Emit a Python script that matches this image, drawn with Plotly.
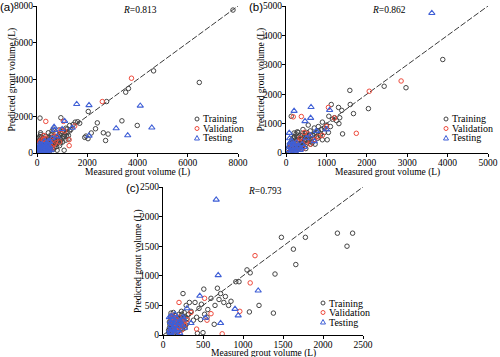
import plotly.graph_objects as go

# ---------------- data: (measured, predicted) ----------------
a_train_x = [7800,4640,6460,3530,3640,2770,2040,2030,2160,2400,2330,2640,2730,2830,3380,3990,1700,1620,950,1080,120,1350,1250,1200,1150,1000,920,870,820,1300,1520,1900,1950,1440,1050,980,760,700,650,600,560,540,500,480,450,430,400,380,350,320,300,280,260,240,220,200,180,160,150,140,120,110,100,600,650,700,750,800,850,900,950,1000,1100,1050,700,650,550,500,450,400,350,300,250,200,600,800,900,1150,1300,1200,720,680,580,520,460,420,380,
             60,90,130,170,210,250,290,330,370,410,450,490,530,570,610,50,80,110,160,190,230,270,310,360,400,440,480,520,560,620,660,740,780,860,940,1020,1180,1240,90,140]
a_train_y = [7780,4470,3840,3310,3510,2800,2260,780,1090,1640,1320,1100,680,1030,1750,1500,1620,1700,1920,150,1900,1280,950,1100,1350,1150,820,1250,700,1500,1680,850,920,1550,900,1050,1050,900,1300,1200,1000,750,850,600,1100,500,700,300,900,450,600,250,800,400,150,500,300,650,100,1000,400,200,50,400,550,600,500,850,650,1000,700,800,1000,1250,300,200,300,100,250,150,550,200,600,700,650,150,400,700,1200,1300,780,700,520,480,380,420,520,
             150,300,550,250,450,100,350,650,200,300,450,350,200,600,500,800,650,900,850,550,350,500,750,250,600,250,750,400,850,300,450,750,350,900,550,600,900,750,700,1100]
a_val_x = [3760,2600,350,1050,1500,1280,1280,950,800,650,500,400,300,250,200,150,120,350,700,600,450,550,1100,900,750,180,280,100,220,330,420,520,640,160,260]
a_val_y = [4070,2800,1720,1720,1470,720,400,1270,1100,900,650,300,150,500,250,700,50,800,500,250,100,600,1200,600,800,400,950,600,200,350,150,300,450,150,750]
a_test_x = [1580,2070,4110,3150,3610,4570,2070,1100,680,1400,500,450,400,350,300,250,200,150,120,100,80,300,550,600,700,400,250,180,350,450,200,150,500,1000,800,
            60,90,130,170,210,240,280,320,360,400,440,480,70,110,160,230,300,380]
a_test_y = [2660,2600,2570,1340,960,1380,940,1740,1420,1370,600,300,200,400,100,250,50,350,150,500,250,650,150,800,1250,500,100,200,50,650,400,50,350,1300,900,
            100,350,250,100,200,350,150,300,250,100,200,150,200,50,450,150,400,350]

b_train_x = [3880,2430,2970,1580,2040,1590,1300,1400,1670,1380,1330,1310,1120,1060,1150,1100,1000,1020,950,900,880,850,800,780,750,720,700,650,620,600,550,520,500,480,450,420,400,380,350,320,300,280,250,220,200,180,150,130,110,100,130,200,280,350,400,460,500,560,600,650,700,750,800,850,900,950,1050,1200,1250,430,380,330,270,240,210,170,140,
             60,90,120,160,190,230,260,290,320,360,390,420,460,490,530,570,610,140,210,310,410,510,250,180]
b_train_y = [3180,2270,2220,2130,1510,1650,1550,650,1340,1450,1200,1000,1650,1250,1150,900,950,450,700,1050,800,600,900,500,700,300,850,600,400,750,950,500,300,650,550,800,400,200,600,300,700,450,150,350,550,250,100,300,200,50,1250,680,720,500,250,450,600,550,500,350,650,550,750,650,450,850,700,1200,1100,350,470,420,330,250,150,400,180,
             150,300,100,350,200,450,250,550,150,350,500,250,400,150,350,450,300,450,550,450,600,700,650,500]
b_val_x = [2850,2060,1740,1050,1200,380,180,1000,900,700,500,450,300,250,200,150,100,350,600,550,800,120,160,230,270,330,420]
b_val_y = [2450,2100,670,1550,1190,1240,1230,900,600,450,400,700,200,350,100,300,50,500,300,650,550,200,150,250,100,400,150]
b_test_x = [3610,200,620,610,470,1080,80,1000,750,500,400,300,250,200,150,120,100,350,600,700,450,180,
            50,80,130,170,220,260,310,370,230,140,90,280]
b_test_y = [4760,1430,1560,1190,1080,1460,680,800,750,500,300,250,150,300,200,50,350,100,600,400,200,80,
            100,250,150,300,200,350,200,150,50,400,500,100]

c_train_x = [2180,2370,2300,1480,1780,1630,1660,1400,1090,910,950,1200,850,780,1380,1080,640,500,510,680,250,720,700,650,600,560,550,520,480,450,420,400,380,350,320,300,290,280,260,240,220,200,190,180,170,160,150,140,130,120,110,100,95,90,85,80,75,130,210,230,330,470,430,760,820,1050,
             70,80,95,105,115,125,135,145,155,165,175,185,195,205,215,225,235,245,255,265,275,285,100,140,180,220,260,300]
c_train_y = [1720,1720,1500,1650,1650,1450,1190,1030,1050,900,900,500,570,650,370,390,180,40,775,790,700,700,600,500,620,430,300,350,520,450,300,550,250,400,350,200,500,300,150,250,100,350,200,50,150,250,100,300,200,50,150,250,100,50,180,120,30,380,270,400,550,260,30,550,500,1100,
             80,220,320,180,280,100,220,40,330,190,290,120,260,180,300,200,350,100,250,380,120,170,370,150,210,160,300,280]
c_val_x = [1150,1090,960,740,520,200,600,420,350,300,250,200,180,150,120,100,90,160,270,230,550,105,125,145,165,185,205,225,245,115,195]
c_val_y = [1340,880,400,20,620,550,360,100,380,260,220,300,150,250,180,280,60,20,170,80,250,220,300,130,280,200,120,250,190,330,60]
c_test_x = [665,1190,900,940,720,530,460,690,300,250,200,180,150,120,100,90,80,210,270,110,140,350,
            85,95,105,125,135,155,175,195,215,235,255,160,120,100]
c_test_y = [2285,750,440,330,200,290,660,1010,450,300,200,100,350,250,150,50,300,30,120,200,80,200,
            80,220,320,120,170,240,280,150,220,180,260,60,100,30]

panels = [
    ("(a)", "0.813", 8000, 2000, a_train_x, a_train_y, a_val_x, a_val_y, a_test_x, a_test_y),
    ("(b)", "0.862", 5000, 1000, b_train_x, b_train_y, b_val_x, b_val_y, b_test_x, b_test_y),
    ("(c)", "0.793", 2500, 500, c_train_x, c_train_y, c_val_x, c_val_y, c_test_x, c_test_y),
]
series_names = ["Training", "Validation", "Testing"]

# ---------------- styling ----------------
W, H = 500, 357
SERIF = "Liberation Serif, Times New Roman, serif"
SANS = "Liberation Sans, Arial, sans-serif"
C_TRAIN = "#444444"
C_VAL = "#ee4a3c"
C_TEST = "#3f5fd6"

# pixel boxes [left, right, top, bottom]
boxes = [(37, 238, 6, 153), (286, 488, 6, 153), (163, 363, 187, 335)]
title_off = [19, 19, 18]

def px(x):
    return x / W

def py(y):
    return 1 - y / H

fig = go.Figure()
annotations = []
shapes = []

for i, (lab, rval, vmax, dt, trx, tr_y, vx, vy, tx, ty) in enumerate(panels):
    k = "" if i == 0 else str(i + 1)
    xa, ya = "x" + k, "y" + k
    L, R, T, B = boxes[i]
    axis_common = dict(
        range=[0, vmax], dtick=dt, tick0=0, showgrid=False, zeroline=False,
        showline=True, linecolor="black", linewidth=1, ticks="outside",
        ticklen=3, tickwidth=1, tickcolor="black", automargin=False,
        ticklabelstandoff=-2,
        tickfont=dict(family=SERIF, size=9.5, color="black"),
    )
    fig.update_layout(**{
        "xaxis" + k: dict(axis_common, domain=[px(L), px(R)], anchor=ya),
        "yaxis" + k: dict(axis_common, domain=[py(B), py(T)], anchor=xa),
    })
    # 1:1 reference line
    fig.add_trace(go.Scatter(x=[0, vmax], y=[0, vmax], mode="lines", xaxis=xa, yaxis=ya,
                             line=dict(color="#222", width=0.9, dash="6px,2px"),
                             showlegend=False, hoverinfo="skip"))
    fig.add_trace(go.Scatter(x=trx, y=tr_y, mode="markers", xaxis=xa, yaxis=ya,
                             marker=dict(symbol="circle-open", size=4.5, color=C_TRAIN,
                                         line=dict(width=1, color=C_TRAIN)),
                             showlegend=False))
    fig.add_trace(go.Scatter(x=vx, y=vy, mode="markers", xaxis=xa, yaxis=ya,
                             marker=dict(symbol="circle-open", size=4.5, color=C_VAL,
                                         line=dict(width=1, color=C_VAL)),
                             showlegend=False))
    fig.add_trace(go.Scatter(x=tx, y=ty, mode="markers", xaxis=xa, yaxis=ya,
                             marker=dict(symbol="triangle-up-open", size=5.5, color=C_TEST,
                                         line=dict(width=1.1, color=C_TEST)),
                             showlegend=False))

    # panel label
    annotations.append(dict(text=lab, x=px(L - 30), y=py(T + 1), xref="paper", yref="paper",
                            xanchor="center", yanchor="middle", showarrow=False,
                            font=dict(family=SANS, size=11.5, color="black")))
    # R text
    annotations.append(dict(text="<i>R</i>=" + rval, x=px((L + R) / 2 + 2),
                            y=py(T + 4), xref="paper", yref="paper",
                            xanchor="center", yanchor="middle", showarrow=False,
                            font=dict(family=SERIF, size=9.5, color="black")))
    # axis titles
    annotations.append(dict(text="Measured grout volume (L)", x=px((L + R) / 2), y=py(B + title_off[i]),
                            xref="paper", yref="paper", xanchor="center", yanchor="middle",
                            showarrow=False, font=dict(family=SERIF, size=9.5, color="black")))
    annotations.append(dict(text="Predicted grout volume (L)", x=px(L - 25), y=py((T + B) / 2),
                            xref="paper", yref="paper", xanchor="center", yanchor="middle",
                            textangle=-90, showarrow=False,
                            font=dict(family=SERIF, size=9.5, color="black")))

    # manual compact legend
    lx = L + 160
    ly0 = T + 113 if i < 2 else T + 116
    for j, nm in enumerate(series_names):
        cy = ly0 + j * 9.5
        cx = lx
        if j < 2:
            col = C_TRAIN if j == 0 else C_VAL
            shapes.append(dict(type="circle", xref="paper", yref="paper",
                               x0=px(cx - 2), x1=px(cx + 2), y0=py(cy + 2), y1=py(cy - 2),
                               line=dict(color=col, width=1), fillcolor="rgba(0,0,0,0)"))
        else:
            shapes.append(dict(type="path", xref="paper", yref="paper",
                               path=f"M {px(cx-2.5)},{py(cy+2)} L {px(cx+2.5)},{py(cy+2)} L {px(cx)},{py(cy-2.5)} Z",
                               line=dict(color=C_TEST, width=1), fillcolor="rgba(0,0,0,0)"))
        annotations.append(dict(text=nm, x=px(cx + 4), y=py(cy), xref="paper", yref="paper",
                                xanchor="left", yanchor="middle", showarrow=False,
                                font=dict(family=SERIF, size=10, color="black")))

fig.update_layout(
    width=W, height=H, margin=dict(l=0, r=0, t=0, b=0, autoexpand=False),
    paper_bgcolor="white", plot_bgcolor="white", template="none",
    annotations=annotations, shapes=shapes, showlegend=False,
)

fig.write_html("out.html", config={"displayModeBar": False},
               post_script="document.body.style.margin='0';document.body.style.overflow='hidden';")
